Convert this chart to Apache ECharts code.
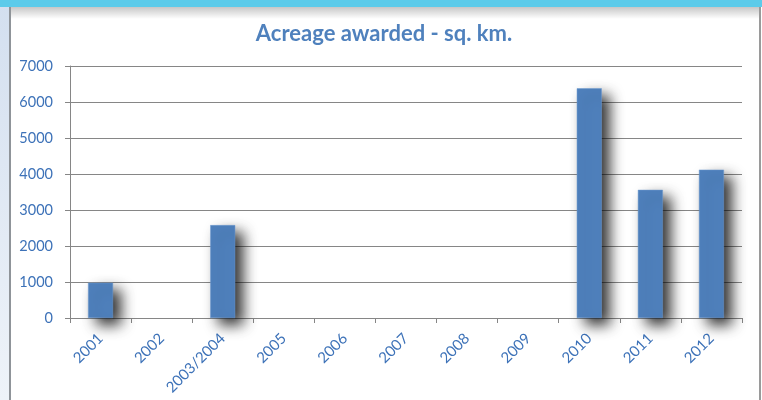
<!DOCTYPE html>
<html><head><meta charset="utf-8">
<script src="https://cdn.jsdelivr.net/npm/echarts@6/dist/echarts.min.js"></script>
<style>html,body{margin:0;padding:0;background:#fff}#c{width:762px;height:400px}</style>
</head><body><div id="c"></div>
<script>
const categories = ['2001','2002','2003/2004','2005','2006','2007','2008','2009','2010','2011','2012'];
const acreage = [980, null, 2580, null, null, null, null, null, 6380, 3560, 4120];
const titleText = 'Acreage awarded - sq. km.';

const chart = echarts.init(document.getElementById('c'), null, {renderer:'canvas'});
chart.setOption({
  animation:false,
  backgroundColor:'#ffffff',
  graphic:[
    {type:'rect', shape:{x:0,y:0,width:9,height:400}, style:{fill:new echarts.graphic.LinearGradient(0,0,0,1,[{offset:0,color:'#d3dfef'},{offset:1,color:'#eef3f9'}])}, z:-1},
    {type:'rect', shape:{x:9,y:0,width:2,height:400}, style:{fill:'#8f9499'}, z:0},
    {type:'rect', shape:{x:759,y:0,width:2,height:400}, style:{fill:'#9a9a9a'}, z:0},
    {type:'rect', shape:{x:11,y:7,width:748,height:12}, style:{fill:new echarts.graphic.LinearGradient(0,0,0,1,[{offset:0,color:'rgba(0,0,0,0.22)'},{offset:1,color:'rgba(0,0,0,0)'}])}, z:0},
    {type:'rect', shape:{x:0,y:0,width:762,height:7}, style:{fill:'#5ccbea'}, z:1}
  ],
  title:{
    text:titleText, left:379, top:18, textAlign:'center',
    textStyle:{color:'#4f81bd', fontSize:22, fontWeight:'bold', fontFamily:'Lato'}
  },
  grid:{left:70, right:20, top:66, bottom:82},
  xAxis:{
    type:'category', data:categories, boundaryGap:true,
    axisLine:{lineStyle:{color:'#868686', width:1}},
    axisTick:{show:true, alignWithLabel:false, length:5, lineStyle:{color:'#868686'}},
    axisLabel:{rotate:45, interval:0, color:'#3d72b8', fontSize:15, fontFamily:'Lato', margin:18}
  },
  yAxis:{
    type:'value', min:0, max:7000, interval:1000,
    axisLine:{show:true, lineStyle:{color:'#868686'}},
    axisTick:{show:true, length:5, lineStyle:{color:'#868686'}},
    splitLine:{lineStyle:{color:'#868686', width:1}},
    axisLabel:{color:'#3d72b8', fontSize:14.5, fontFamily:'Lato', margin:17, formatter:v=>String(v)}
  },
  series:[{
    type:'bar', data:acreage, barWidth:25,
    itemStyle:{color:'#4f81bd', borderColor:'#6f9ad0', borderWidth:0.5,
      shadowColor:'rgba(0,0,0,0.8)', shadowBlur:14, shadowOffsetX:8, shadowOffsetY:7}
  }]
});
</script></body></html>
